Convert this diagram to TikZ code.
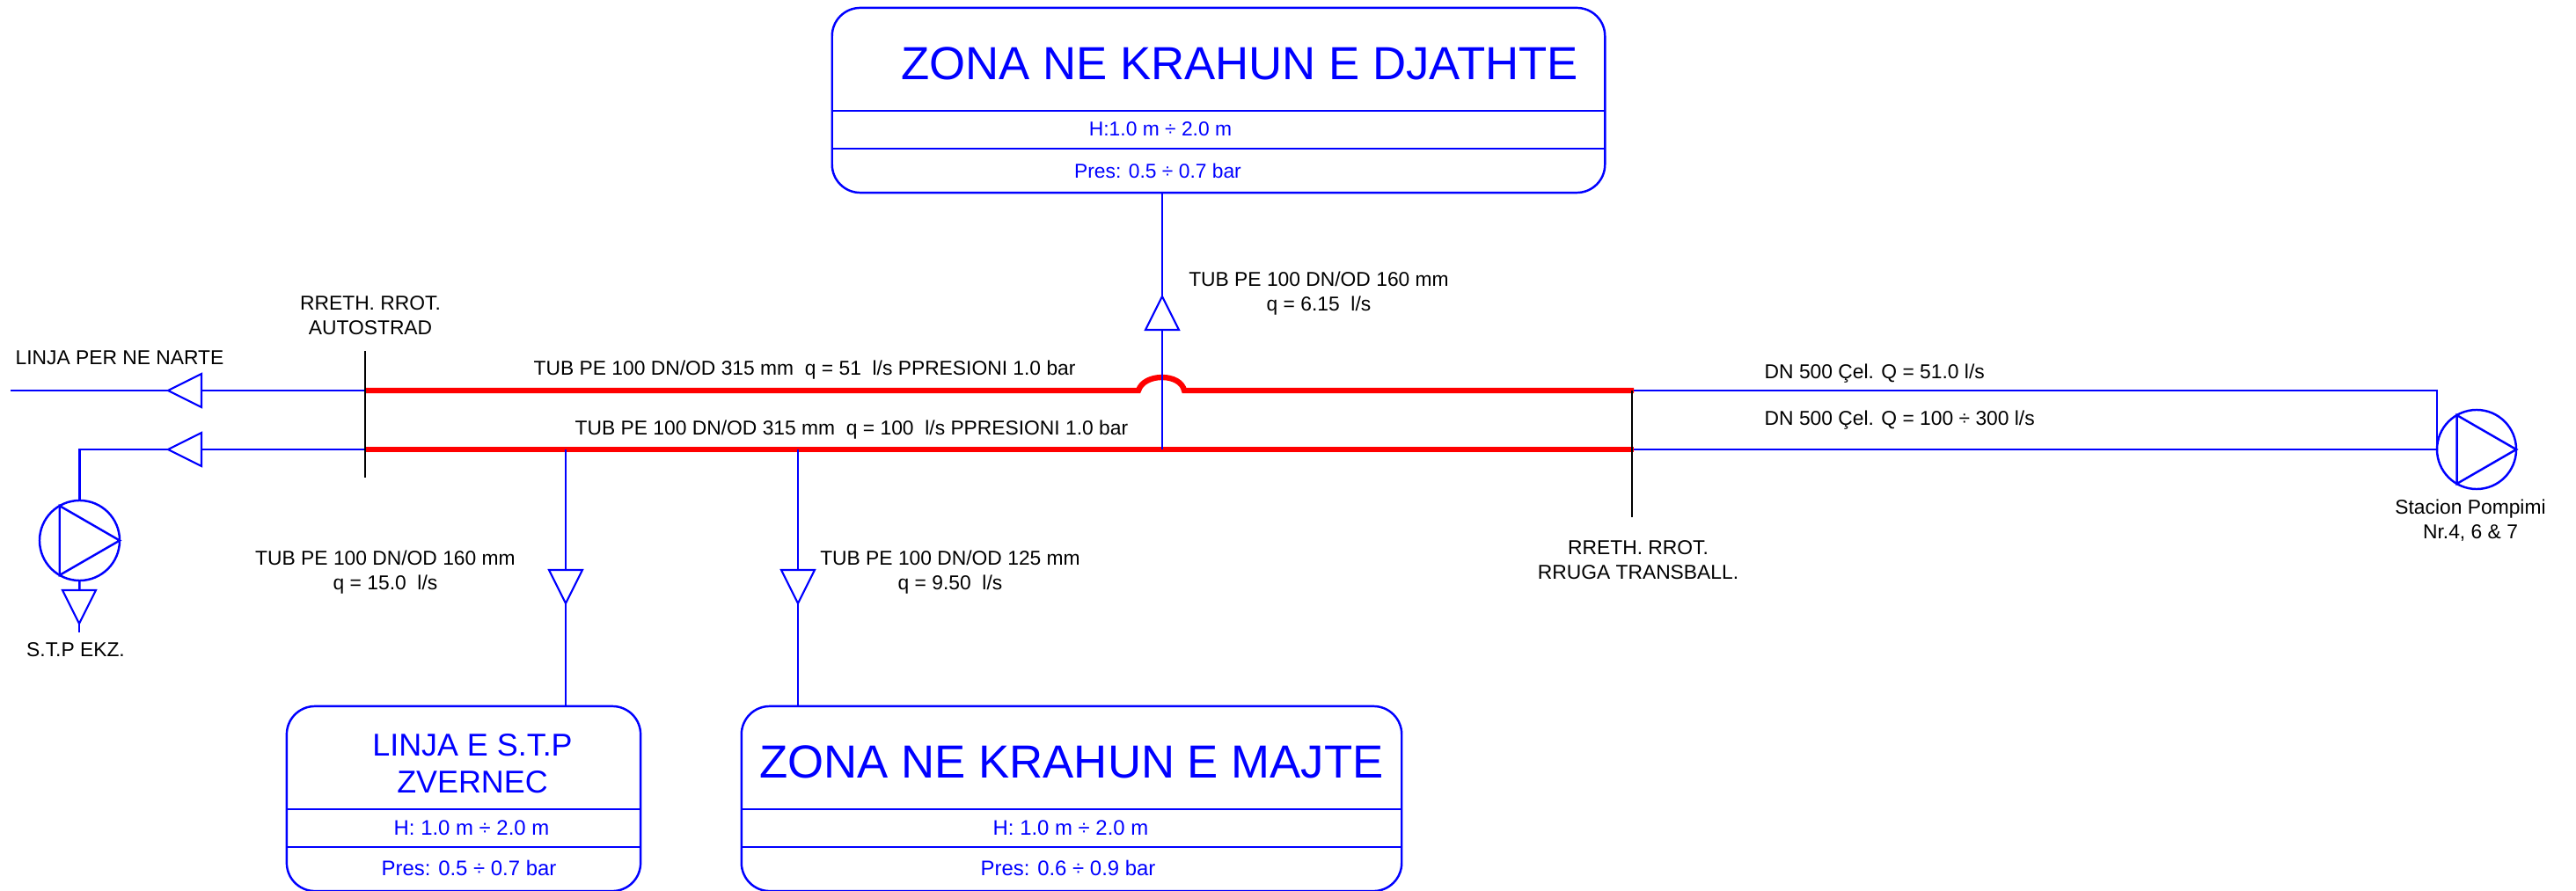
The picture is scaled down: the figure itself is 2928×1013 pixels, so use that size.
\documentclass[tikz,border=0pt]{standalone}
\usepackage{fontspec}
\setmainfont{Liberation Sans}
\definecolor{pipeblue}{RGB}{0,0,255}
\definecolor{pipered}{RGB}{255,0,0}
\usetikzlibrary{shapes.geometric}

\begin{document}
\begin{tikzpicture}[
  x=0.01cm, y=-0.01cm,
  font=\fontsize{6.49}{7.94}\selectfont,
  pipe/.style={draw=pipeblue, line width=0.7pt},
  branch/.style={draw=pipeblue, line width=0.5pt},
  hotpipe/.style={draw=pipered, line width=1.8pt},
  marker/.style={draw=black, line width=0.5pt},
  flow/.style={draw=pipeblue, line width=0.6pt, isosceles triangle, isosceles triangle stretches,
               minimum width=3.8mm, minimum height=3.8mm, inner sep=0pt, outer sep=0pt, anchor=apex},
  pumpc/.style={circle, draw=pipeblue, line width=0.7pt, minimum size=9mm, inner sep=0pt, outer sep=0pt},
  zonebox/.style={draw=pipeblue, line width=0.7pt, rounded corners=3.2mm, inner sep=0pt, outer sep=0pt},
  lbl/.style={inner sep=0pt, align=center},
  zlbl/.style={lbl, text=pipeblue},
  zlow/.style={zlbl, font=\fontsize{6.8}{8}\selectfont},
  ztitle/.style={lbl, text=pipeblue, font=\fontsize{15}{18}\selectfont},
]
\useasboundingbox (0,0) rectangle (2928,1013);

% --- Zone boxes ---
\node[zonebox, minimum width=87.8mm, minimum height=21mm] (zoneR) at (1385,114) {};
\node[zonebox, minimum width=40.2mm, minimum height=21mm] (zoneS) at (527,908) {};
\node[zonebox, minimum width=75mm, minimum height=21mm] (zoneL) at (1218,908) {};
\draw[zonebox] (zoneR.west |- 0,126) -- (zoneR.east |- 0,126);
\draw[zonebox] (zoneR.west |- 0,169) -- (zoneR.east |- 0,169);
\draw[zonebox] (zoneS.west |- 0,920) -- (zoneS.east |- 0,920);
\draw[zonebox] (zoneS.west |- 0,963) -- (zoneS.east |- 0,963);
\draw[zonebox] (zoneL.west |- 0,920) -- (zoneL.east |- 0,920);
\draw[zonebox] (zoneL.west |- 0,963) -- (zoneL.east |- 0,963);

\node[ztitle] (zoneRname) at (1409,72) {ZONA NE KRAHUN E DJATHTE};
\node[zlbl] (zoneRh) at (1319,147) {H:1.0 m ÷ 2.0 m};
\node[zlbl] (zoneRp) at (1316,194) {Pres: 0.5 ÷ 0.7 bar};
\node[ztitle, font=\fontsize{10.2}{11.9}\selectfont] (zoneSname) at (537,868) {LINJA E S.T.P\\ZVERNEC};
\node[zlow] (zoneSh) at (536,941) {H: 1.0 m ÷ 2.0 m};
\node[zlow] (zoneSp) at (533,987) {Pres: 0.5 ÷ 0.7 bar};
\node[ztitle] (zoneLname) at (1218,866) {ZONA NE KRAHUN E MAJTE};
\node[zlow] (zoneLh) at (1217,941) {H: 1.0 m ÷ 2.0 m};
\node[zlow] (zoneLp) at (1214,987) {Pres: 0.6 ÷ 0.9 bar};

% --- Junctions on the two mains ---
\coordinate (startA) at (12,444);
\coordinate (autoA) at (415,444);
\coordinate (autoB) at (415,511);
\coordinate (hopL) at (1294,444);
\coordinate (hopR) at (1346,444);
\coordinate (transA) at (1857,444);
\coordinate (transB) at (1857,511);
\coordinate (bendA) at (2770,444);
\coordinate (bendB) at (2770,511);
\coordinate (tapS) at (643,511);
\coordinate (tapL) at (907,511);
\coordinate (tapR) at (1321,511);

% --- Flow triangles and pumps ---
\node[flow, shape border rotate=180] (flowA) at (191,444) {};
\node[flow, shape border rotate=180] (flowB) at (191,511) {};
\node[flow, shape border rotate=90] (flowR) at (1321,337) {};
\node[flow, shape border rotate=270] (flowS) at (643,686) {};
\node[flow, shape border rotate=270] (flowL) at (907,686) {};
\node[flow, shape border rotate=270] (flowE) at (90,709) {};
\node[pumpc, minimum size=9.1mm] (pumpE) at (90.5,614.5) {};
\node[pumpc] (pumpS) at (2815,511) {};
\coordinate (endE) at (90,719);

\draw[pipe] (pumpE.120) -- (pumpE.240) -- (pumpE.0) -- cycle;
\draw[pipe] (pumpS.120) -- (pumpS.240) -- (pumpS.0) -- cycle;

% --- Red sections ---
\draw[hotpipe] (autoA) -- (hopL) .. controls (1300,424) and (1342,424) .. (hopR) -- (transA);
\draw[hotpipe] (autoB) -- (transB);

% --- Blue pipes ---
\draw[pipe] (flowA) -- (startA);
\draw[pipe] (autoA) -- (flowA);
\draw[pipe] (autoB) -- (flowB);
\draw[pipe] (flowB) -| (pumpE.north);
\draw[pipe] (pumpE.south) -- (flowE);
\draw[pipe] (flowE) -- (endE);
\draw[pipe] (transA) -- (bendA) -- (bendB);
\draw[pipe] (transB) -- (pumpS.west);
\draw[branch] (tapR) -- (flowR);
\draw[branch] (flowR) -- (flowR |- zoneR.south);
\draw[branch] (tapS) -- (flowS);
\draw[branch] (flowS) -- (flowS |- zoneS.north);
\draw[branch] (tapL) -- (flowL);
\draw[branch] (flowL) -- (flowL |- zoneL.north);

% --- Black section markers ---
\coordinate (autoTop) at (415,399);
\coordinate (autoEnd) at (415,543);
\coordinate (transTop) at (1855,444);
\coordinate (transEnd) at (1855,588);
\draw[marker] (autoTop) -- (autoEnd);
\draw[marker] (transTop) -- (transEnd);

% --- Labels ---
\node[lbl] (lblNorth) at (136,407) {LINJA PER NE NARTE};
\node[lbl] (lblAuto) at (421,359) {RRETH. RROT.\\AUTOSTRAD};
\node[lbl] (lblTrans) at (1862,637) {RRETH. RROT.\\RRUGA TRANSBALL.};
\node[lbl] (lblStp) at (86,739) {S.T.P EKZ.};
\node[lbl] (lblStation) at (2808,592) {Stacion Pompimi\\Nr.4, 6 \& 7};
\node[lbl, anchor=west] (lblMainA) at (606,421) {TUB PE 100 DN/OD 315 mm~ q = 51~ l/s PPRESIONI 1.0 bar};
\node[lbl, anchor=west] (lblMainB) at (653,489) {TUB PE 100 DN/OD 315 mm~ q = 100~ l/s PPRESIONI 1.0 bar};
\node[lbl, anchor=west] (lblSteelA) at (2005,425) {DN 500 Çel. Q = 51.0 l/s};
\node[lbl, anchor=west] (lblSteelB) at (2005,478) {DN 500 Çel. Q = 100 ÷ 300 l/s};
\node[lbl] (lblBranchR) at (1499,334) {TUB PE 100 DN/OD 160 mm\\q = 6.15~ l/s};
\node[lbl] (lblBranchS) at (438,651) {TUB PE 100 DN/OD 160 mm\\q = 15.0~ l/s};
\node[lbl] (lblBranchL) at (1080,651) {TUB PE 100 DN/OD 125 mm\\q = 9.50~ l/s};

\end{tikzpicture}
\end{document}
